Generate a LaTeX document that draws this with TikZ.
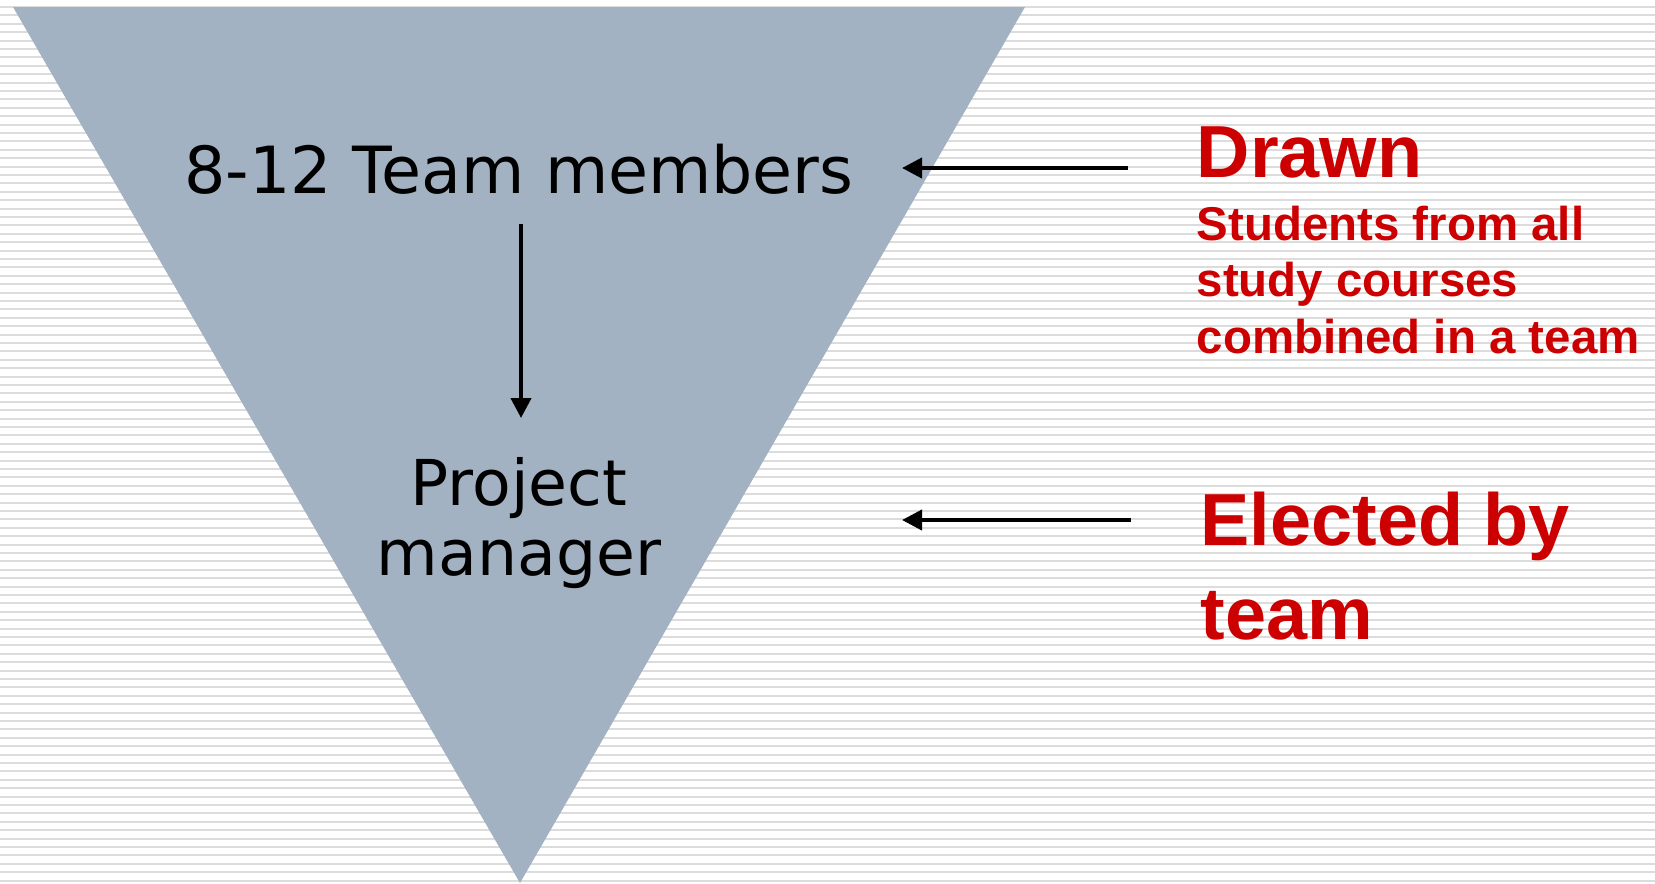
\documentclass[tikz,border=0pt]{standalone}
\usepackage{fontspec}
\setmainfont{DejaVu Sans}
\newfontfamily\arialfont{Liberation Sans}
\usetikzlibrary{arrows.meta}
\definecolor{funnel}{HTML}{A3B2C2}
\definecolor{stripe}{HTML}{DCDCDC}
\definecolor{alert}{HTML}{CC0000}

\begin{document}
\begin{tikzpicture}[
  darktext/.style={inner sep=0pt, font=\fontsize{18}{19.9}\selectfont},
  redbig/.style={inner sep=0pt, text=alert, align=left, font=\arialfont\bfseries\fontsize{21}{26.5}\selectfont},
  redsmall/.style={inner sep=0pt, text=alert, align=left, font=\arialfont\bfseries\fontsize{13.5}{16}\selectfont},
  pointer/.style={line width=0.04cm, -{Triangle[length=0.2cm, width=0.2cm]}}
]
  \useasboundingbox (0,0) rectangle (16.55,-8.83);
  % striped background
  \foreach \i in {0,...,104} {
    \fill[stripe] (0,-0.06-0.084*\i) rectangle (16.55,-0.08-0.084*\i);
  }
  \fill[funnel] (0.13,-0.07) -- (10.25,-0.07) -- (5.20,-8.83) -- cycle;

  % multi-line nodes sit on the baseline of their last line
  \node[darktext, anchor=base, font=\fontsize{18.5}{20}\selectfont] (team) at (5.19,-1.93) {8-12 Team members};
  \node[darktext, anchor=base, align=center] (pm) at (5.19,-5.75) {Project\\manager};

  \node[redbig, anchor=base west] (drawn) at (11.96,-1.77) {Drawn};
  \node[redsmall, anchor=base west] (students) at (11.96,-3.53)
    {Students from all\\study courses\\combined in a team};
  \node[redbig, anchor=base west] (elected) at (12.00,-6.39) {Elected by\\team};

  \coordinate (drawntail) at (11.28,-1.68);
  \coordinate (drawnhead) at (9.02,-1.68);
  \coordinate (electtail) at (11.31,-5.20);
  \coordinate (electhead) at (9.02,-5.20);
  \coordinate (downtail) at (5.21,-2.24);
  \coordinate (downhead) at (5.21,-4.18);

  \draw[pointer] (drawntail) -- (drawnhead);
  \draw[pointer] (electtail) -- (electhead);
  \draw[pointer] (downtail) -- (downhead);
\end{tikzpicture}
\end{document}
